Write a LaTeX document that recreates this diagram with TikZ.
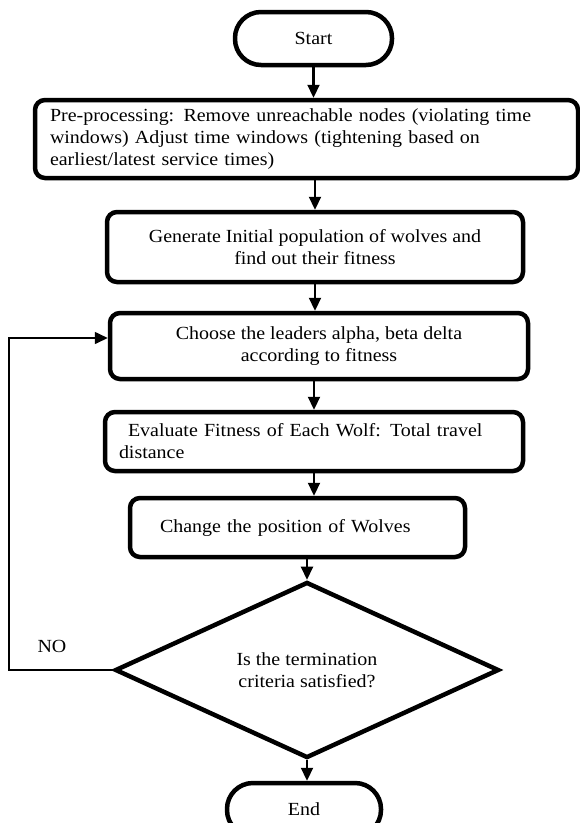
\documentclass[tikz,border=0pt]{standalone}
\usepackage{fontspec}
\setmainfont{Liberation Serif}[FakeStretch=1.08]
\usetikzlibrary{arrows.meta,shapes.geometric}

\begin{document}
\begin{tikzpicture}[x=1pt,y=-1pt,
      terminal/.style={rectangle,draw=black,line width=4.5pt,rounded corners=26pt,
                       minimum width=157pt,minimum height=53pt,align=center},
      process/.style={rectangle,draw=black,line width=4.5pt,rounded corners=10pt,
                      align=center},
      decision/.style={diamond,draw=black,line width=4.5pt,inner sep=0pt,
                       minimum width=384pt,minimum height=154pt,align=center},
      arrow/.style={-{Triangle[length=13pt,width=12pt]},line width=2.2pt,draw=black},
      loopline/.style={-{Triangle[length=13pt,width=12pt]},line width=1.6pt,draw=black},
      font=\fontsize{18.5}{22}\selectfont
    ]
    \useasboundingbox (0,0) rectangle (580,823);

    % Terminals
    \node[terminal] (S) at (313.5,38.5) {Start};
    \node[terminal,minimum width=154pt] (End) at (304,809.5) {End};

    % Process steps
    \node[process,align=left,text width=513pt,inner xsep=15pt,minimum height=78pt] (P) at (306.5,139)
      {Pre-processing: Remove unreachable nodes (violating time\\
       windows) Adjust time windows (tightening based on\\
       earliest/latest service times)};
    \node[process,minimum width=416pt,minimum height=70pt] (G) at (315,247)
      {Generate Initial population of wolves and\\ find out their fitness};
    \node[process,minimum width=418pt,minimum height=66pt] (C) at (319,346)
      {Choose the leaders alpha, beta delta\\ according to fitness};
    \node[process,align=left,text width=390pt,inner xsep=14pt,minimum height=59pt] (E) at (314,441.5)
      {\hspace{9pt}Evaluate Fitness of Each Wolf: Total travel\\ distance};
    \node[process,align=left,text width=275pt,inner xsep=30pt,minimum height=59pt] (Ch) at (297.5,527.5)
      {Change the position of Wolves};

    % Decision
    \node[decision] (D) at (307,670)
      {Is the termination\\ criteria satisfied?};

    % Flow
    \draw[arrow] (S.south) -- (S.south |- P.north);
    \draw[arrow] (G.north |- P.south) -- (G.north);
    \draw[arrow] (G.south) -- (G.south |- C.north);
    \draw[arrow] (E.north |- C.south) -- (E.north);
    \draw[arrow] (E.south) -- (E.south |- Ch.north);
    \draw[arrow] (D.north |- Ch.south) -- (D.north);
    \draw[arrow] (D.south) -- (D.south |- End.north);

    % Loop back
    \coordinate (back) at (9,338);
    \draw[loopline] (D.west) -| (back) -- (back -| C.west);
    \node (no) at (52,646) {NO};

  \end{tikzpicture}
\end{document}
